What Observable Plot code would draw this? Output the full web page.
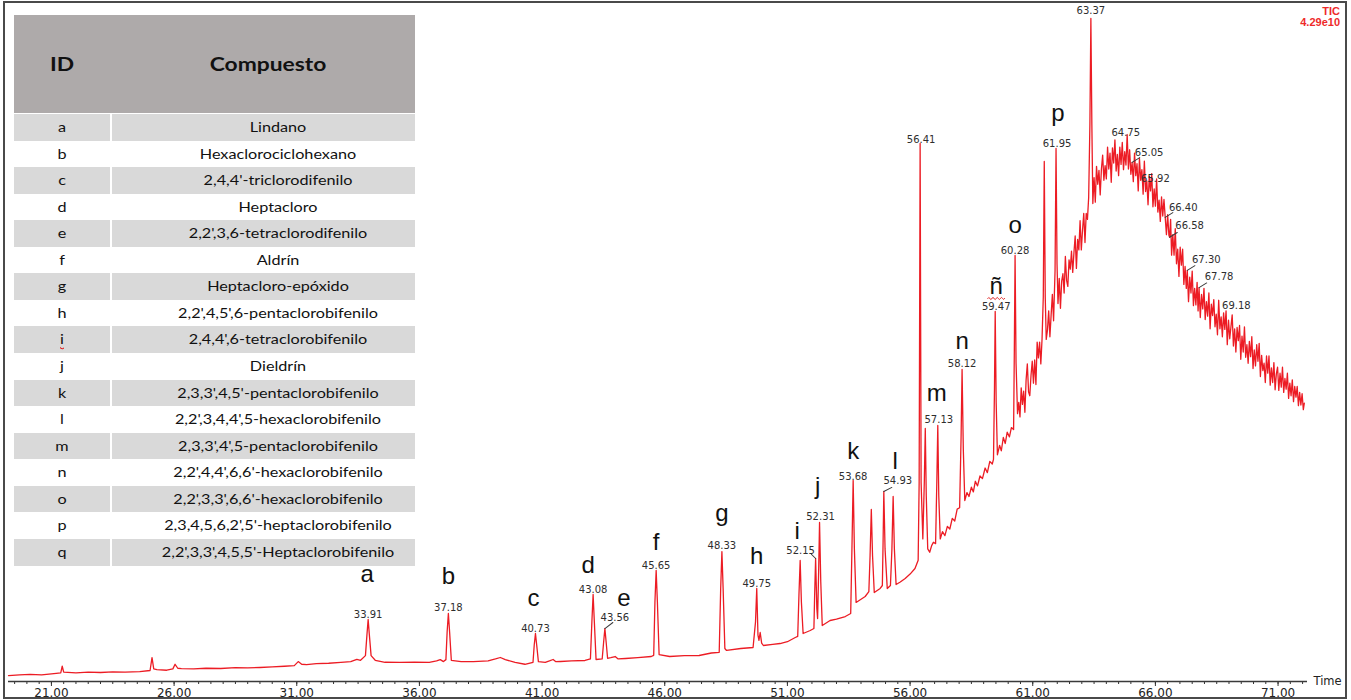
<!DOCTYPE html>
<html>
<head>
<meta charset="utf-8">
<script src="https://cdn.jsdelivr.net/npm/d3@7"></script>
<script src="https://cdn.jsdelivr.net/npm/@observablehq/plot@0.6"></script>
<style>
  body { margin: 0; background: #fff; }
  #wrap { position: relative; width: 1351px; height: 700px; overflow: hidden; background: #fff; }
  #wrap svg { position: absolute; left: 0; top: 0; }
  #frame { position: absolute; left: 3px; top: 1px; width: 1340px; height: 694px; border: 2px solid #4a4a4a; pointer-events: none; }
  #tic { position: absolute; right: 11px; top: 6px; text-align: right; font: bold 11px "Liberation Sans", Arial, sans-serif; color: #ee2a2a; line-height: 11px; }
  #table { position: absolute; left: 14px; top: 15px; width: 401px; height: 549px; font-family: Lato, "Open Sans", sans-serif; color: #111; }
  .hdr { position: absolute; left: 0; top: 0; width: 401px; height: 98px; background: #aeaaaa; }
  .cell { position: absolute; height: 100%; top: 0; }
  .txt { position: absolute; white-space: nowrap; transform: translateX(-50%) scaleX(1.2); }
  .wavy { text-decoration: underline wavy #e02020; text-decoration-thickness: 1px; }
</style>
</head>
<body>
<div id="wrap">
  <div id="chart"></div>
  <div id="table"></div>
  <div id="tic">TIC<br>4.29e10</div>
  <div id="frame"></div>
</div>
<script>
// ---------- DATA ----------
// Total ion chromatogram trace: [retention time (min), relative abundance (% of 4.29e10)]
const traceEarly = [
  [19.25,0.9],[19.7,1.0],[20.13,1.06],[20.6,1.0],[21.1,1.2],[21.38,1.3],[21.44,2.3],[21.5,1.4],[22.0,1.3],[22.5,1.4],
  [23.0,1.36],[23.5,1.45],[24.0,1.4],[24.6,1.5],[25.02,1.66],[25.10,3.6],[25.17,1.9],[25.3,1.8],[25.7,1.7],[25.95,1.9],
  [26.04,2.6],[26.15,2.0],[26.3,1.95],[26.8,1.9],[27.3,2.0],[27.9,1.96],[28.5,2.1],[29.0,2.05],[29.5,2.11],[30.0,2.2],
  [30.5,2.3],[30.9,2.4],[31.06,3.0],[31.2,2.6],[31.4,2.56],[31.8,2.7],[32.3,2.75],[32.8,2.9],[33.2,3.0],[33.45,3.35],
  [33.6,3.2],[33.8,3.9],[33.86,7.0],[33.91,9.35],[33.96,7.0],[34.03,3.9],[34.2,3.2],[34.6,2.9],[35.2,2.87],[35.8,2.9],
  [36.4,2.87],[36.7,3.1],[36.85,3.3],[36.98,3.0],[37.08,3.3],[37.13,7.5],[37.18,10.26],[37.23,7.5],[37.30,3.2],[37.7,3.0],
  [38.2,3.0],[38.8,3.1],[39.1,3.4],[39.3,3.62],[39.5,3.3],[39.9,2.87],[40.3,2.6],[40.63,2.9],[40.68,5.5],[40.73,7.24],
  [40.78,5.5],[40.85,3.0],[41.13,2.87],[41.3,3.1],[41.45,3.32],[41.55,3.0],[41.75,3.02],[42.2,3.1],[42.75,3.17],[42.97,3.4]
];
const traceMiddle = [
  [43.03,9.0],[43.08,13.12],[43.13,9.0],[43.20,3.32],[43.45,3.4],[43.51,6.0],[43.56,7.99],[43.61,6.0],[43.67,3.5],[43.8,3.6],
  [43.98,3.77],[44.1,3.4],[44.4,3.47],[44.9,3.6],[45.45,3.77],[45.55,3.95],[45.60,12.0],[45.65,16.74],[45.70,12.0],[45.77,4.07],
  [46.2,3.77],[46.8,3.9],[47.4,3.92],[47.9,4.3],[48.22,4.4],[48.28,14.0],[48.33,19.6],[48.38,14.0],[48.45,4.98],[48.52,4.68],
  [49.1,4.98],[49.6,5.13],[49.70,9.0],[49.75,14.03],[49.80,7.0],[49.84,6.2],[49.89,7.39],[49.95,5.8],[50.02,5.43],[50.4,5.6],
  [50.7,5.73],[51.0,6.0],[51.32,6.64],[51.42,6.8],[51.47,13.0],[51.52,18.25],[51.57,12.0],[51.64,7.24],[51.93,7.69],[52.08,8.0],
  [52.11,13.0],[52.15,18.55],[52.20,11.0],[52.23,9.5],[52.27,16.0],[52.31,23.98],[52.36,15.0],[52.42,8.45],[52.74,9.2],[53.0,9.4],
  [53.36,9.8],[53.58,10.26],[53.63,20.0],[53.68,30.32],[53.73,20.0],[53.80,11.92],[54.17,12.82],[54.32,13.57],[54.37,19.0],[54.42,25.94],
  [54.47,19.0],[54.54,13.42],[54.78,14.03],[54.87,14.48],[54.90,21.0],[54.93,28.66],[54.98,20.0],[55.07,14.03],[55.20,14.48],[55.26,20.0],
  [55.31,27.9],[55.36,20.0],[55.43,14.63],[55.6,15.0],[55.8,15.54],[56.0,16.2],[56.2,17.04],[56.33,18.3],[56.37,30.0],[56.41,81.15],
  [56.45,30.0],[56.52,21.5],[56.58,30.0],[56.62,38.16],[56.66,28.0],[56.72,20.0],[56.80,19.5],[56.88,20.5],[56.95,21.0],[57.04,20.8],
  [57.09,30.0],[57.13,38.61],[57.17,28.0],[57.23,21.5],[57.32,22.6],[57.42,22.0],[57.52,23.4],[57.62,23.0],[57.72,24.6],[57.82,24.2],
  [57.92,26.0],[58.02,26.2],[58.08,37.0],[58.12,47.06],[58.17,35.0],[58.23,27.3],[58.32,28.5],[58.40,27.9],[58.50,29.3],[58.58,28.6],
  [58.66,30.2],[58.75,29.5],[58.85,31.0],[58.95,30.6],[59.06,32.2],[59.15,31.5],[59.25,33.2],[59.35,32.8],[59.40,33.5],[59.44,44.0],
  [59.47,55.81],[59.51,42.0],[59.56,34.2],[59.65,35.6],[59.72,34.8],[59.80,36.8],[59.88,35.9],[59.96,37.6],[60.05,36.9],[60.13,38.3],
  [60.22,38.0],[60.25,50.0],[60.28,64.25],[60.32,48.0]
];
const traceHump = [
  [60.38,40.4],[60.43,42.1],[60.48,39.9],[60.53,44.3],[60.58,41.8],[60.63,43.8],[60.68,40.6],[60.73,45.5],[60.78,47.9],[60.83,43.7],
  [60.88,43.1],[60.93,46.2],[60.98,48.3],[61.03,45.0],[61.08,48.5],[61.13,44.8],[61.18,51.2],[61.23,48.8],[61.28,51.2],[61.33,47.9],
  [61.38,51.7],[61.43,58.0],[61.47,78.43],[61.51,58.0],[61.55,51.6],[61.60,53.0],[61.65,55.9],[61.70,52.0],[61.75,55.3],[61.80,58.4],
  [61.85,54.4],[61.91,62.0],[61.95,80.39],[61.99,63.0],[62.03,57.0],[62.08,60.8],[62.13,56.3],[62.18,60.4],[62.23,61.5],[62.28,58.6],
  [62.33,64.1],[62.38,60.5],[62.43,59.6],[62.48,63.6],[62.53,62.2],[62.58,64.9],[62.63,61.7],[62.68,64.7],[62.73,67.2],[62.78,62.3],
  [62.83,66.7],[62.88,65.1],[62.93,69.5],[62.98,65.1],[63.03,68.1],[63.08,70.6],[63.13,66.2],[63.18,70.6],[63.23,69.7],[63.28,73.0],
  [63.33,84.0],[63.37,100],[63.41,84.0],[63.45,72.1],[63.50,76.0],[63.55,72.3],[63.60,77.7],[63.65,75.0],[63.70,77.1],[63.75,73.4],
  [63.80,77.3],[63.85,79.4],[63.90,75.6],[63.95,77.8],[64.00,75.8],[64.05,80.6],[64.10,77.3],[64.15,79.7],[64.20,75.3],[64.25,80.5],
  [64.30,78.2],[64.35,81.7],[64.40,77.0],[64.45,79.5],[64.50,76.3],[64.55,80.6],[64.60,78.0],[64.65,81.3],[64.70,77.2],[64.75,79.9],
  [64.80,77.9],[64.85,82.5],[64.90,77.3],[64.95,80.2],[65.00,76.5],[65.05,78.3],[65.10,75.4],[65.15,79.7],[65.20,76.3],[65.25,78.1],
  [65.30,74.0],[65.35,78.9],[65.40,75.6],[65.45,77.2],[65.50,73.5],[65.55,78.5],[65.60,73.9],[65.65,75.5],[65.70,71.9],[65.75,76.2],
  [65.80,74.0],[65.85,76.6],[65.90,71.6],[65.95,74.3],[66.00,71.7],[66.05,75.8],[66.10,70.8],[66.15,72.6],[66.20,69.4],[66.25,73.1],
  [66.30,70.2],[66.35,72.7],[66.40,70.0],[66.45,67.4],[66.50,70.4],[66.55,67.3],[66.58,67.0],[66.62,69.7],[66.66,64.3],[66.71,67.4],
  [66.76,64.3],[66.81,68.3],[66.86,63.0],[66.91,65.2],[66.96,61.1],[67.01,65.5],[67.06,62.8],[67.11,65.2],[67.16,59.9],[67.21,62.6],
  [67.26,59.3],[67.30,62.0],[67.35,57.3],[67.40,61.0],[67.45,58.6],[67.50,61.9],[67.55,56.7],[67.60,59.3],[67.65,56.8],[67.70,60.2],
  [67.74,55.9],[67.78,59.4],[67.83,54.9],[67.88,58.4],[67.93,56.2],[67.98,59.3],[68.03,54.6],[68.08,57.3],[68.13,55.1],[68.18,58.6],
  [68.23,53.2],[68.28,56.9],[68.33,55.2],[68.38,57.6],[68.43,53.5],[68.48,55.4],[68.53,52.3],[68.58,57.5],[68.63,53.2],[68.68,55.0],
  [68.73,52.0],[68.78,55.6],[68.83,53.1],[68.88,55.9],[68.93,50.8],[68.98,54.5],[69.03,51.7],[69.08,53.5],[69.13,55.3],[69.18,50.6],
  [69.23,53.2],[69.28,49.7],[69.33,53.4],[69.38,51.4],[69.43,53.7],[69.48,48.6],[69.53,52.1],[69.58,49.7],[69.63,53.5],[69.68,48.9],
  [69.73,50.8],[69.78,48.0],[69.83,51.3],[69.88,49.0],[69.93,52.0],[69.98,47.2],[70.03,50.0],[70.08,47.6],[70.13,50.8],[70.18,48.3],
  [70.23,51.0],[70.28,46.0],[70.33,49.2],[70.38,46.9],[70.43,48.0],[70.48,45.1],[70.53,49.1],[70.58,46.5],[70.63,49.1],[70.68,44.7],
  [70.73,47.3],[70.78,45.1],[70.83,48.1],[70.88,44.0],[70.93,46.4],[70.98,47.4],[71.03,43.9],[71.08,46.5],[71.13,44.4],[71.18,47.4],
  [71.23,43.6],[71.28,45.7],[71.33,44.1],[71.38,46.5],[71.43,42.7],[71.48,45.0],[71.53,43.1],[71.58,45.5],[71.63,42.2],[71.68,44.5],
  [71.73,42.9],[71.78,44.5],[71.83,41.6],[71.88,43.6],[71.93,41.7],[71.98,43.4],[72.03,41.0],[72.07,42.0]
];

// Retention-time labels on the trace
const rtLabels = ["33.91","37.18","40.73","43.08","43.56","45.65","48.33","49.75","52.15","52.31","53.68","54.93",
  "56.41","57.13","58.12","59.47","60.28","61.95","63.37","64.75","65.05","65.92","66.40","66.58","67.30","67.78","69.18"];

// Peak identifiers and the retention time of the peak they mark
const peakIds   = ["a","b","c","d","e","f","g","h","i","j","k","l","m","n","ñ","o","p"];
const peakTimes = [33.91,37.18,40.73,43.08,43.56,45.65,48.33,49.75,51.52,52.31,53.68,55.31,57.13,58.12,59.47,60.28,61.95];

// Compound table
const tableIds = ["a","b","c","d","e","f","g","h","i","j","k","l","m","n","o","p","q"];
const tableCompounds = [
  "Lindano","Hexaclorociclohexano","2,4,4'-triclorodifenilo","Heptacloro","2,2',3,6-tetraclorodifenilo","Aldrín",
  "Heptacloro-epóxido","2,2',4,5',6-pentaclorobifenilo","2,4,4',6-tetraclorobifenilo","Dieldrín",
  "2,3,3',4,5'-pentaclorobifenilo","2,2',3,4,4',5-hexaclorobifenilo","2,3,3',4',5-pentaclorobifenilo",
  "2,2',4,4',6,6'-hexaclorobifenilo","2,2',3,3',6,6'-hexaclorobifenilo","2,3,4,5,6,2',5'-heptaclorobifenilo",
  "2,2',3,3',4,5,5'-Heptaclorobifenilo"
];

// Axis ticks (min)
const majorTicks = [21,26,31,36,41,46,51,56,61,66,71];
const minorTicks = d3.range(19.5, 72.01, 0.5);

// ---------- LAYOUT (pixel offsets of annotations) ----------
const rtLayout = {
  "33.91":[0,-5],"37.18":[0,-6],"40.73":[0,-5],"43.08":[0,-5],"43.56":[10,-11],"45.65":[0,-5],"48.33":[0,-6],
  "49.75":[0,-5],"52.15":[-15,-8],"52.31":[1,-6],"53.68":[0,-4],"54.93":[14,-11],"56.41":[1,-4],"57.13":[1,-6],
  "58.12":[0,-6],"59.47":[1,-5],"60.28":[0,-5],"61.95":[1,-5],"63.37":[0,-8],"64.75":[1,-19],"65.05":[17,-10],
  "65.92":[2,-21],"66.40":[18,-10],"66.58":[20,-11],"67.30":[19,-11],"67.78":[20,-11],"69.18":[3,-40]
};
const leaderLayout = { // [angle deg, length px]
  "43.56":[53,10],"52.15":[-45,6],"54.93":[63,9],"65.05":[58,9],"66.40":[58,9],"66.58":[58,9],"67.30":[58,9],"67.78":[58,9]
};
const letterLayout = {
  a:[-1,-45],b:[0,-37],c:[-2,-35],d:[-5,-29],e:[19,-30],f:[0,-28],g:[0,-38],h:[0,-32],i:[-3,-29],
  j:[-2,-36],k:[0,-29],l:[2,-35],m:[-1,-32],n:[0,-28],"ñ":[1,-25],o:[0,-30],p:[2,-35]
};

// ---------- BUILD ----------
const trace = traceEarly.concat(traceMiddle, traceHump).map(([t, v]) => ({t, v}));
function valueAt(t) {
  for (let i = 1; i < trace.length; i++) {
    const a = trace[i - 1], b = trace[i];
    if (t >= a.t && t <= b.t) return a.v + (b.v - a.v) * (t - a.t) / (b.t - a.t);
  }
  return trace[trace.length - 1].v;
}

const labelMarks = rtLabels.map(s => {
  const t = +s, [dx, dy] = rtLayout[s] || [0, -5];
  return Plot.text([{t, v: valueAt(t), s}], {
    x: "t", y: "v", text: "s", dx, dy, fontSize: 10, fill: "#2e2e2e",
    fontFamily: "DejaVu Sans, sans-serif"
  });
});
const leaderShape = { draw(context, l) { context.moveTo(0, 0); context.lineTo(0, -l); } };
const leaderMarks = Object.entries(leaderLayout).map(([s, [angle, len]]) => {
  const t = +s;
  return Plot.vector([{t, v: valueAt(t)}], {
    x: "t", y: "v", rotate: angle, length: len, anchor: "start", shape: leaderShape,
    stroke: "#3a3a3a", strokeWidth: 1
  });
});
const letterMarks = peakIds.map((id, i) => {
  const t = peakTimes[i], [dx, dy] = letterLayout[id];
  return Plot.text([{t, v: valueAt(t), id}], {
    x: "t", y: "v", text: "id", dx, dy, fontSize: 24, fill: "#111",
    fontFamily: "Liberation Sans, Arial, sans-serif"
  });
});
// red spell-check squiggle under the "ñ" identifier (a wavy stroke shape)
const waveShape = { draw(context) {
  const w = 17, n = 8, step = w / n;
  context.moveTo(-w / 2, 0);
  for (let k = 0; k < n; k++) {
    const x0 = -w / 2 + k * step;
    context.quadraticCurveTo(x0 + step / 2, k % 2 ? 2 : -2, x0 + step, 0);
  }
}};
const tildeT = peakTimes[peakIds.indexOf("ñ")];
const squiggleMark = Plot.vector([{t: tildeT, v: valueAt(tildeT)}], {
  x: "t", y: "v", length: 1, rotate: 0, anchor: "start", shape: waveShape,
  stroke: "#e02020", strokeWidth: 1, fill: "none", dx: 1, dy: -13
});

const chart = Plot.plot({
  width: 1351, height: 700,
  marginLeft: 8, marginRight: 44, marginTop: 18, marginBottom: 19,
  x: {domain: [19.25, 72.2]},
  y: {domain: [0, 100], axis: null},
  style: {background: "transparent", fontFamily: "DejaVu Sans, sans-serif", color: "#222"},
  marks: [
    Plot.axisX(minorTicks, {tickSize: 3, tickFormat: () => "", stroke: "#333", label: null}),
    Plot.axisX(majorTicks, {tickSize: 5, tickPadding: 2, tickFormat: d => d.toFixed(2), fontSize: 12,
      fill: "#222", stroke: "#333", label: null}),
    Plot.ruleY([0], {stroke: "#3a3a3a", strokeWidth: 1.5}),
    Plot.text(["Time"], {x: () => 72.2, y: () => 0, text: d => d, dx: 6, textAnchor: "start",
      fontSize: 11.5, fill: "#222"}),
    Plot.line(trace, {x: "t", y: "v", stroke: "#ec1c24", strokeWidth: 1.3}),
    ...leaderMarks,
    ...labelMarks,
    ...letterMarks,
    squiggleMark
  ]
});
document.getElementById("chart").appendChild(chart);

// ---------- TABLE ----------
const tbl = document.getElementById("table");
const rowH = 26.56, bodyTop = 99;
let html = `<div class="hdr">
  <span class="txt" style="left:48px;top:0;line-height:98px;font-weight:700;font-size:19px;">ID</span>
  <span class="txt" style="left:254px;top:0;line-height:98px;font-weight:700;font-size:19px;">Compuesto</span>
</div>`;
tableIds.forEach((id, i) => {
  const top = bodyTop + i * rowH;
  const bg = i % 2 === 0 ? "#d9d9d9" : "transparent";
  const idHtml = id === "i" ? `<span class="wavy">${id}</span>` : id;
  html += `<div style="position:absolute;left:0;top:${top}px;width:401px;height:${rowH}px;">
    <div class="cell" style="left:0;width:96px;background:${bg};"></div>
    <div class="cell" style="left:98px;width:303px;background:${bg};"></div>
    <span class="txt" style="left:48px;top:0;line-height:${rowH}px;font-size:13.5px;">${idHtml}</span>
    <span class="txt" style="left:264px;top:0;line-height:${rowH}px;font-size:13.5px;">${tableCompounds[i]}</span>
  </div>`;
});
tbl.innerHTML = html;
</script>
</body>
</html>
